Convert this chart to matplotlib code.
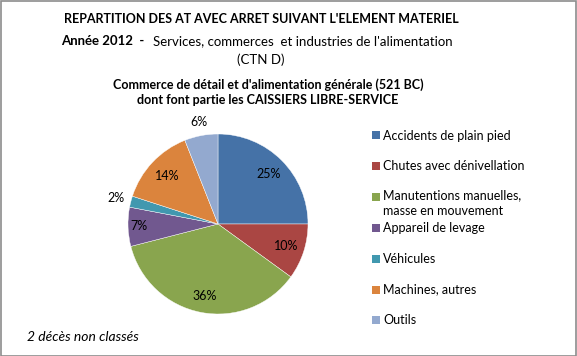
#!/usr/bin/env python3
"""Pie chart: AT avec arret by element materiel, commerce de detail (521 BC), 2012."""
import numpy as np
import matplotlib
matplotlib.use("Agg")
import matplotlib.pyplot as plt
from matplotlib.patches import Rectangle

categories = [
    "Accidents de plain pied",
    "Chutes avec dénivellation",
    "Manutentions manuelles,\nmasse en mouvement",
    "Appareil de levage",
    "Véhicules",
    "Machines, autres",
    "Outils",
]
shares = [25, 10, 36, 7, 2, 14, 6]
colors = ["#4572A7", "#AA4643", "#89A54E", "#71588F", "#4198AF", "#DB843D", "#93A9CF"]
label_dist = [0.79, 0.80, 0.81, 0.88, 1.17, 0.78, 1.15]

FONT = "Lato"
INK = "#000000"
W, H = 577, 356

plt.rcParams.update({"font.family": [FONT, "DejaVu Sans"], "text.color": INK})

fig = plt.figure(figsize=(W / 100, H / 100), dpi=100)
fig.patch.set_facecolor("white")


def px(x, y):
    return x / W, 1 - y / H


# pie: centre (218, 224) px, radius 90 px
R = 90
span = 1.25
cx, cy = 218, 224
ax = fig.add_axes([(cx - R * span) / W, (H - cy - R * span) / H,
                   2 * R * span / W, 2 * R * span / H])
wedges, _ = ax.pie(shares, colors=colors, startangle=90, counterclock=False,
                   radius=1.0,
                   wedgeprops=dict(edgecolor="white", linewidth=0.3))
total = sum(shares)
for w, v, d in zip(wedges, shares, label_dist):
    ang = np.deg2rad((w.theta1 + w.theta2) / 2)
    ax.text(d * np.cos(ang), d * np.sin(ang), f"{v / total:.0%}",
            ha="center", va="center", fontsize=9, color=INK)
ax.set_xlim(-span, span)
ax.set_ylim(-span, span)
ax.set_aspect("equal")
ax.axis("off")

# titles
fig.text(*px(261, 19), "REPARTITION DES AT AVEC ARRET SUIVANT L'ELEMENT MATERIEL",
         ha="center", va="center", fontsize=9, fontweight="bold")
fig.text(*px(144, 41), "Année 2012  -", ha="right", va="center",
         fontsize=9.5, fontweight="bold")
fig.text(*px(153, 41), "Services, commerces  et industries de l'alimentation",
         ha="left", va="center", fontsize=9.5)
fig.text(*px(261, 60), "(CTN D)", ha="center", va="center", fontsize=9.5)
fig.text(*px(268, 85), "Commerce de détail et d'alimentation générale (521 BC)",
         ha="center", va="center", fontsize=9, fontweight="bold")
fig.text(*px(268, 100), "dont font partie les CAISSIERS LIBRE-SERVICE",
         ha="center", va="center", fontsize=9, fontweight="bold")

# legend, drawn entry by entry
for i, (lab, col) in enumerate(zip(categories, colors)):
    y = 135.5 + i * 30.8
    x0, y0 = px(372, y + 4)
    fig.patches.append(Rectangle((x0, y0), 8 / W, 8 / H, transform=fig.transFigure,
                                 facecolor=col, edgecolor="none"))
    if "\n" in lab:
        fig.text(*px(383, y - 7.5), lab, ha="left", va="top",
                 fontsize=9, linespacing=1.3)
    else:
        fig.text(*px(383, y), lab, ha="left", va="center", fontsize=9)

fig.text(*px(27, 337), "2 décès non classés", ha="left", va="center",
         fontsize=10, style="italic")

# chart frame
fig.patches.append(Rectangle((0.5 / W, 0.5 / H), (W - 1.5) / W, (H - 1.5) / H,
                             transform=fig.transFigure, facecolor="none",
                             edgecolor="#8c8c8c", linewidth=1.2))

fig.savefig("out.png", dpi=100)
